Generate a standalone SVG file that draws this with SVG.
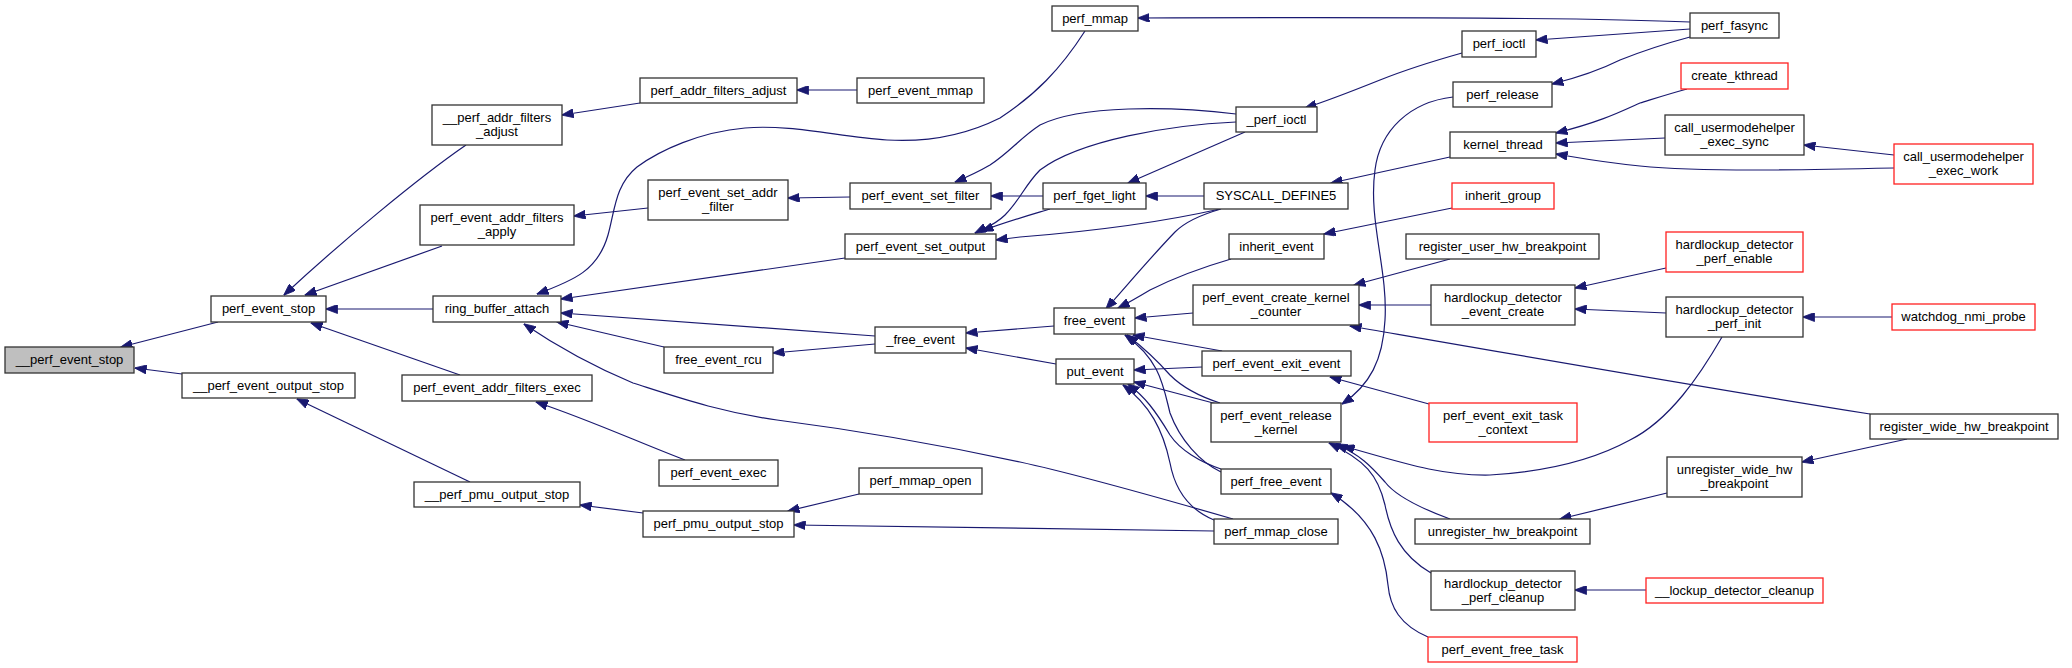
<svg xmlns="http://www.w3.org/2000/svg" width="2072" height="668" viewBox="0 0 2072 668">
<style>
rect{fill:#ffffff;stroke:#333333;stroke-width:1.3}
rect.r{stroke:#ff2020}
rect.g{fill:#bfbfbf}
text{font-family:"Liberation Sans",Arial,Helvetica,sans-serif;font-size:13px;fill:#000000;text-anchor:middle}
#edges path{fill:none;stroke:#191970;stroke-width:1.2;marker-end:url(#ah)}
</style>
<defs>
<marker id="ah" viewBox="0 0 12 9" refX="11.5" refY="4.5" markerWidth="12" markerHeight="9" orient="auto" markerUnits="userSpaceOnUse">
<path d="M0,0 L12,4.5 L0,9 z" fill="#191970" stroke="#191970" stroke-width="0.8"/>
</marker>
</defs>
<rect x="0" y="0" width="2072" height="668" style="fill:#ffffff;stroke:none"/>
<g id="edges">
<path d="M218,322 L121,347"/>
<path d="M182,374 L135,368"/>
<path d="M466,145 C418,178 340,243 284,295"/>
<path d="M442,246 L305,295"/>
<path d="M433,309 L326,309"/>
<path d="M460,375 L311,323"/>
<path d="M470,482 L297,399"/>
<path d="M640,103 L562,115"/>
<path d="M857,90 L797,90"/>
<path d="M648,208 L574,216"/>
<path d="M850,197 L788,198"/>
<path d="M1085,31 C1060,70 1035,95 1000,118 C960,138 920,142 887,140 C840,137 790,124 745,128 C700,132 660,150 637,167 C615,185 615,210 608,235 C598,270 575,280 537,294"/>
<path d="M845,258 L561,299"/>
<path d="M875,336 L561,313"/>
<path d="M664,347 L557,322"/>
<path d="M1233,519 C1150,495 1080,475 1020,462 C950,447 870,432 777,420 C720,412 680,398 633,383 C590,365 555,345 524,324"/>
<path d="M643,513 L580,505"/>
<path d="M685,460 C640,443 590,420 536,402"/>
<path d="M875,344 L773,353"/>
<path d="M859,494 L788,511"/>
<path d="M1214,531 L794,525"/>
<path d="M1236,114 C1170,106 1080,105 1040,125 C1020,138 1010,152 990,165 C978,172 967,177 955,182"/>
<path d="M1043,196 L991,196"/>
<path d="M1236,122 C1170,125 1080,140 1040,170 C1025,185 1020,200 1005,215 C995,225 985,228 975,233"/>
<path d="M1050,209 C1030,215 1005,222 982,231"/>
<path d="M1220,209 C1180,218 1110,230 1020,237 L996,240"/>
<path d="M1054,326 L966,333"/>
<path d="M1056,364 L966,348"/>
<path d="M1690,22 C1600,18 1400,17 1138,18"/>
<path d="M1690,29 L1536,40"/>
<path d="M1690,37 C1660,45 1640,52 1620,60 C1600,70 1580,77 1552,84"/>
<path d="M1462,53 C1430,62 1400,72 1380,80 C1355,90 1330,100 1305,108"/>
<path d="M1245,132 L1128,183"/>
<path d="M1204,196 L1146,196"/>
<path d="M1450,157 L1331,183"/>
<path d="M1221,209 C1200,215 1185,222 1175,232 C1150,258 1130,282 1106,309"/>
<path d="M1231,259 C1200,268 1170,280 1150,290 C1140,296 1130,302 1118,308"/>
<path d="M1193,313 L1135,318"/>
<path d="M1222,351 L1133,335"/>
<path d="M1220,403 C1195,395 1180,385 1170,375 C1155,358 1140,345 1127,335"/>
<path d="M1221,472 C1200,462 1180,440 1170,413 C1163,385 1160,360 1125,335"/>
<path d="M1202,367 L1134,370"/>
<path d="M1217,404 L1134,382"/>
<path d="M1221,469 C1200,462 1180,450 1170,435 C1155,410 1145,397 1128,384"/>
<path d="M1214,520 C1190,510 1175,490 1170,463 C1163,430 1150,405 1123,385"/>
<path d="M1453,97 C1410,102 1380,130 1375,170 C1368,220 1388,270 1385,320 C1383,360 1370,385 1342,404"/>
<path d="M1429,404 L1330,377"/>
<path d="M1687,89 C1665,95 1650,100 1640,103 C1620,112 1600,122 1556,133"/>
<path d="M1665,138 L1556,143"/>
<path d="M1894,168 C1800,170 1700,172 1640,166 C1600,162 1580,158 1556,154"/>
<path d="M1894,155 L1804,145"/>
<path d="M1452,208 L1324,234"/>
<path d="M1450,259 L1354,285"/>
<path d="M1431,305 L1359,305"/>
<path d="M1870,414 C1700,387 1500,352 1350,326"/>
<path d="M1666,268 L1575,288"/>
<path d="M1666,313 L1575,309"/>
<path d="M1892,317 L1803,317"/>
<path d="M1722,337 C1700,375 1670,420 1630,440 C1590,462 1540,472 1490,475 C1440,476 1400,462 1343,446"/>
<path d="M1450,519 C1420,508 1395,495 1385,482 C1370,465 1360,455 1336,444"/>
<path d="M1431,573 C1400,555 1390,530 1385,505 C1378,475 1365,460 1329,443"/>
<path d="M1428,637 C1400,625 1390,607 1388,585 C1385,555 1375,520 1331,493"/>
<path d="M1667,493 L1560,519"/>
<path d="M1907,439 L1802,462"/>
<path d="M1646,590 L1575,590"/>
</g>
<g id="n___perf_event_stop"><rect class="g" x="5" y="347" width="129" height="26"/><text x="69.5" y="364">__perf_event_stop</text></g>
<g id="n_perf_event_stop"><rect x="211" y="296" width="115" height="26"/><text x="268.5" y="313">perf_event_stop</text></g>
<g id="n___perf_event_output_stop"><rect x="182" y="373" width="173" height="25"/><text x="268.5" y="390">__perf_event_output_stop</text></g>
<g id="n___perf_addr_filters_adjust"><rect x="432" y="105" width="130" height="40"/><text x="497" y="122">__perf_addr_filters</text><text x="497" y="136">_adjust</text></g>
<g id="n_perf_event_addr_filters_apply"><rect x="420" y="205" width="154" height="40"/><text x="497" y="222">perf_event_addr_filters</text><text x="497" y="236">_apply</text></g>
<g id="n_ring_buffer_attach"><rect x="433" y="296" width="128" height="26"/><text x="497" y="313">ring_buffer_attach</text></g>
<g id="n_perf_event_addr_filters_exec"><rect x="402" y="375" width="190" height="26"/><text x="497" y="392">perf_event_addr_filters_exec</text></g>
<g id="n___perf_pmu_output_stop"><rect x="414" y="482" width="166" height="25"/><text x="497" y="499">__perf_pmu_output_stop</text></g>
<g id="n_perf_addr_filters_adjust"><rect x="640" y="78" width="157" height="25"/><text x="718.5" y="95">perf_addr_filters_adjust</text></g>
<g id="n_perf_event_mmap"><rect x="857" y="78" width="127" height="25"/><text x="920.5" y="95">perf_event_mmap</text></g>
<g id="n_perf_event_set_addr_filter"><rect x="648" y="180" width="140" height="40"/><text x="718" y="197">perf_event_set_addr</text><text x="718" y="211">_filter</text></g>
<g id="n_perf_event_set_filter"><rect x="850" y="183" width="141" height="26"/><text x="920.5" y="200">perf_event_set_filter</text></g>
<g id="n_perf_event_set_output"><rect x="845" y="234" width="151" height="25"/><text x="920.5" y="251">perf_event_set_output</text></g>
<g id="n__free_event"><rect x="875" y="327" width="91" height="26"/><text x="920.5" y="344">_free_event</text></g>
<g id="n_free_event_rcu"><rect x="664" y="347" width="109" height="26"/><text x="718.5" y="364">free_event_rcu</text></g>
<g id="n_perf_event_exec"><rect x="659" y="460" width="119" height="26"/><text x="718.5" y="477">perf_event_exec</text></g>
<g id="n_perf_mmap_open"><rect x="859" y="468" width="123" height="26"/><text x="920.5" y="485">perf_mmap_open</text></g>
<g id="n_perf_pmu_output_stop"><rect x="643" y="511" width="151" height="26"/><text x="718.5" y="528">perf_pmu_output_stop</text></g>
<g id="n_perf_mmap"><rect x="1052" y="6" width="86" height="25"/><text x="1095" y="23">perf_mmap</text></g>
<g id="n_perf_ioctl"><rect x="1462" y="31" width="74" height="26"/><text x="1499" y="48">perf_ioctl</text></g>
<g id="n_perf_release"><rect x="1453" y="82" width="99" height="25"/><text x="1502.5" y="99">perf_release</text></g>
<g id="n__perf_ioctl"><rect x="1236" y="107" width="81" height="25"/><text x="1276.5" y="124">_perf_ioctl</text></g>
<g id="n_kernel_thread"><rect x="1450" y="132" width="106" height="26"/><text x="1503" y="149">kernel_thread</text></g>
<g id="n_perf_fget_light"><rect x="1043" y="183" width="103" height="26"/><text x="1094.5" y="200">perf_fget_light</text></g>
<g id="n_SYSCALL_DEFINE5"><rect x="1204" y="183" width="144" height="26"/><text x="1276" y="200">SYSCALL_DEFINE5</text></g>
<g id="n_inherit_group"><rect class="r" x="1452" y="183" width="102" height="26"/><text x="1503" y="200">inherit_group</text></g>
<g id="n_inherit_event"><rect x="1229" y="234" width="95" height="25"/><text x="1276.5" y="251">inherit_event</text></g>
<g id="n_register_user_hw_breakpoint"><rect x="1406" y="234" width="193" height="25"/><text x="1502.5" y="251">register_user_hw_breakpoint</text></g>
<g id="n_perf_event_create_kernel_counter"><rect x="1193" y="285" width="166" height="40"/><text x="1276" y="302">perf_event_create_kernel</text><text x="1276" y="316">_counter</text></g>
<g id="n_hardlockup_detector_event_create"><rect x="1431" y="285" width="144" height="40"/><text x="1503" y="302">hardlockup_detector</text><text x="1503" y="316">_event_create</text></g>
<g id="n_free_event"><rect x="1054" y="308" width="81" height="26"/><text x="1094.5" y="325">free_event</text></g>
<g id="n_put_event"><rect x="1056" y="359" width="78" height="25"/><text x="1095" y="376">put_event</text></g>
<g id="n_perf_event_exit_event"><rect x="1202" y="351" width="149" height="25"/><text x="1276.5" y="368">perf_event_exit_event</text></g>
<g id="n_perf_event_release_kernel"><rect x="1211" y="403" width="130" height="39"/><text x="1276" y="420">perf_event_release</text><text x="1276" y="434">_kernel</text></g>
<g id="n_perf_event_exit_task_context"><rect class="r" x="1429" y="403" width="148" height="39"/><text x="1503" y="420">perf_event_exit_task</text><text x="1503" y="434">_context</text></g>
<g id="n_perf_free_event"><rect x="1221" y="469" width="110" height="25"/><text x="1276" y="486">perf_free_event</text></g>
<g id="n_perf_mmap_close"><rect x="1214" y="519" width="124" height="25"/><text x="1276" y="536">perf_mmap_close</text></g>
<g id="n_unregister_hw_breakpoint"><rect x="1415" y="519" width="175" height="25"/><text x="1502.5" y="536">unregister_hw_breakpoint</text></g>
<g id="n_hardlockup_detector_perf_cleanup"><rect x="1431" y="571" width="144" height="39"/><text x="1503" y="588">hardlockup_detector</text><text x="1503" y="602">_perf_cleanup</text></g>
<g id="n_perf_event_free_task"><rect class="r" x="1428" y="637" width="149" height="25"/><text x="1502.5" y="654">perf_event_free_task</text></g>
<g id="n_perf_fasync"><rect x="1690" y="13" width="89" height="25"/><text x="1734.5" y="30">perf_fasync</text></g>
<g id="n_create_kthread"><rect class="r" x="1681" y="63" width="107" height="26"/><text x="1734.5" y="80">create_kthread</text></g>
<g id="n_call_usermodehelper_exec_sync"><rect x="1665" y="115" width="139" height="40"/><text x="1734.5" y="132">call_usermodehelper</text><text x="1734.5" y="146">_exec_sync</text></g>
<g id="n_call_usermodehelper_exec_work"><rect class="r" x="1894" y="144" width="139" height="40"/><text x="1963.5" y="161">call_usermodehelper</text><text x="1963.5" y="175">_exec_work</text></g>
<g id="n_hardlockup_detector_perf_enable"><rect class="r" x="1666" y="232" width="137" height="40"/><text x="1734.5" y="249">hardlockup_detector</text><text x="1734.5" y="263">_perf_enable</text></g>
<g id="n_hardlockup_detector_perf_init"><rect x="1666" y="297" width="137" height="40"/><text x="1734.5" y="314">hardlockup_detector</text><text x="1734.5" y="328">_perf_init</text></g>
<g id="n_watchdog_nmi_probe"><rect class="r" x="1892" y="304" width="143" height="26"/><text x="1963.5" y="321">watchdog_nmi_probe</text></g>
<g id="n_register_wide_hw_breakpoint"><rect x="1870" y="414" width="188" height="25"/><text x="1964" y="431">register_wide_hw_breakpoint</text></g>
<g id="n_unregister_wide_hw_breakpoint"><rect x="1667" y="457" width="135" height="40"/><text x="1734.5" y="474">unregister_wide_hw</text><text x="1734.5" y="488">_breakpoint</text></g>
<g id="n___lockup_detector_cleanup"><rect class="r" x="1646" y="578" width="177" height="25"/><text x="1734.5" y="595">__lockup_detector_cleanup</text></g>
</svg>
